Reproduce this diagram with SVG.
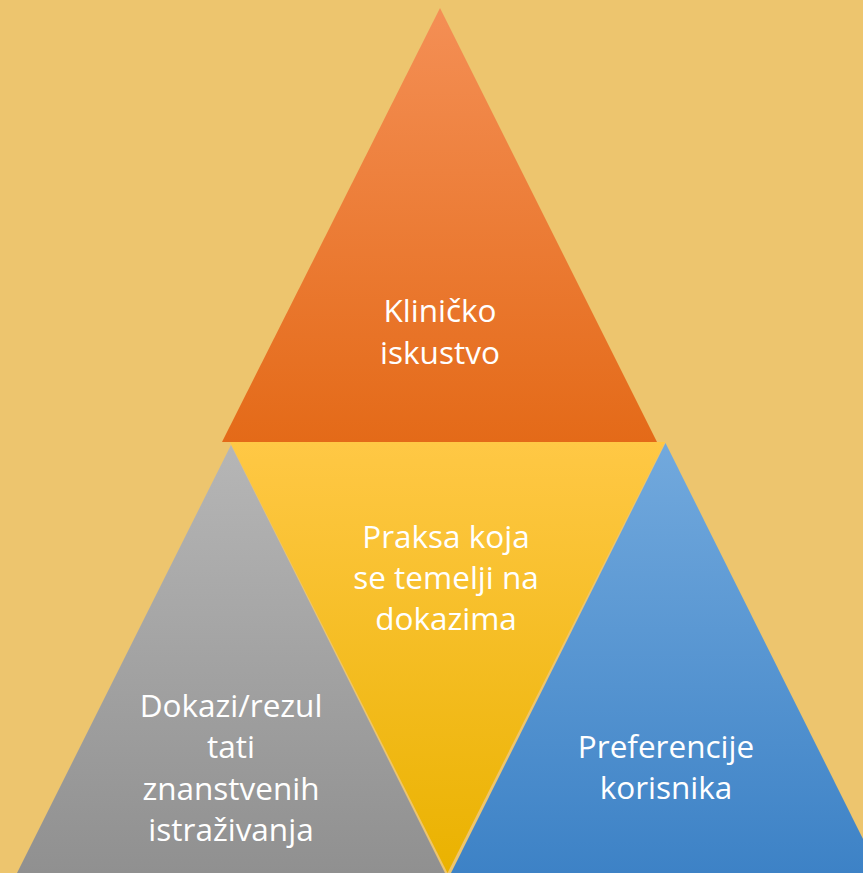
<svg xmlns="http://www.w3.org/2000/svg" width="863" height="873" viewBox="0 0 863 873">
  <defs>
    <linearGradient id="gOrange" x1="0" y1="0" x2="0" y2="1">
      <stop offset="0" stop-color="#F48F55"/>
      <stop offset="1" stop-color="#E46A18"/>
    </linearGradient>
    <linearGradient id="gYellow" x1="0" y1="0" x2="0" y2="1">
      <stop offset="0" stop-color="#FFC845"/>
      <stop offset="1" stop-color="#EAB200"/>
    </linearGradient>
    <linearGradient id="gGray" x1="0" y1="0" x2="0" y2="1">
      <stop offset="0" stop-color="#B6B6B6"/>
      <stop offset="1" stop-color="#909090"/>
    </linearGradient>
    <linearGradient id="gBlue" x1="0" y1="0" x2="0" y2="1">
      <stop offset="0" stop-color="#72A9DD"/>
      <stop offset="1" stop-color="#3D82C6"/>
    </linearGradient>
  </defs>
  <style>
    .lbl { font-family: "Open Sans", "Liberation Sans", sans-serif; font-size: 31.5px; fill: #FFFFFF; text-anchor: middle; }
  </style>
  <rect x="0" y="0" width="863" height="873" fill="#EDC56E"/>
  <g id="node-klinicko">
    <polygon points="440,8 657,442 222,442" fill="url(#gOrange)"/>
    <text class="lbl" x="440" y="322">Kliničko</text>
    <text class="lbl" x="440" y="364">iskustvo</text>
  </g>
  <g id="node-praksa">
    <polygon points="230,442 665,442 447.5,873" fill="url(#gYellow)"/>
    <text class="lbl" x="446" y="548">Praksa koja</text>
    <text class="lbl" x="446" y="589">se temelji na</text>
    <text class="lbl" x="446" y="630">dokazima</text>
  </g>
  <g id="node-dokazi">
    <polygon points="231,445 445,873 17,873" fill="url(#gGray)"/>
    <text class="lbl" x="231" y="717">Dokazi/rezul</text>
    <text class="lbl" x="231" y="758">tati</text>
    <text class="lbl" x="231" y="800">znanstvenih</text>
    <text class="lbl" x="231" y="841">istraživanja</text>
  </g>
  <g id="node-preferencije">
    <polygon points="665.5,443 880,873 451,873" fill="url(#gBlue)"/>
    <text class="lbl" x="666" y="758">Preferencije</text>
    <text class="lbl" x="666" y="799">korisnika</text>
  </g>
  <g id="connectors"></g>
</svg>
